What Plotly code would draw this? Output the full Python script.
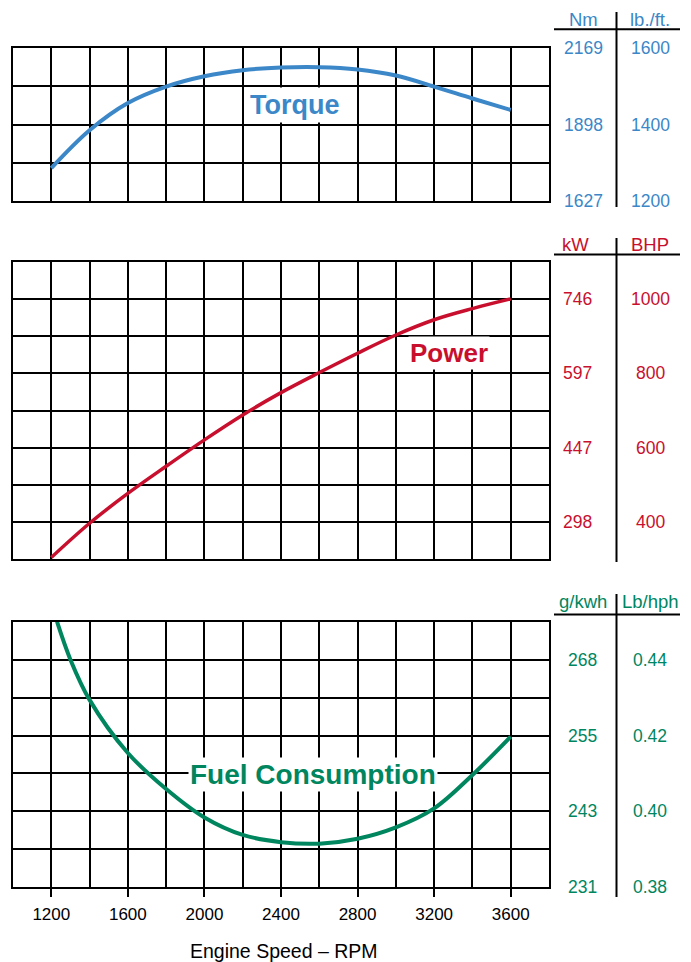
import plotly.graph_objects as go

# ---------------- data ----------------
torque_rpm = [1200, 1400, 1600, 1800, 2000, 2200, 2400, 2600, 2800, 3000, 3200, 3400, 3600]
torque_lbft = [1286, 1385, 1456, 1499, 1526, 1542, 1549, 1550, 1544, 1528, 1499, 1468, 1438]

power_rpm = [1200, 1400, 1600, 1800, 2000, 2200, 2400, 2600, 2800, 3000, 3200, 3400, 3600]
power_bhp = [305, 397, 477, 550, 621, 688, 748, 802, 854, 903, 944, 974, 1000]

fuel_rpm = [1230, 1300, 1400, 1600, 1800, 2000, 2200, 2400, 2600, 2800, 3000, 3200, 3400, 3600]
fuel_lbhph = [0.450, 0.440, 0.4294, 0.4154, 0.4059, 0.3984, 0.3938, 0.3919, 0.3915, 0.3928,
              0.3958, 0.4008, 0.4096, 0.4197]

rpm_ticks = [1200, 1600, 2000, 2400, 2800, 3200, 3600]

torque_nm_labels = ["2169", "1898", "1627"]
torque_lbft_ticks = [1600, 1400, 1200]
power_kw_labels = ["746", "597", "447", "298"]
power_bhp_ticks = [1000, 800, 600, 400]
fuel_gkwh_labels = ["268", "255", "243", "231"]
fuel_lbhph_ticks = [0.44, 0.42, 0.40, 0.38]

BLUE = "#3b87c8"
RED = "#c8102e"
GREEN = "#00865f"
FONT = "Liberation Sans, Arial, Helvetica, sans-serif"

W, H = 691, 962
def px(x):
    return x / W
def py(y):
    return 1 - y / H

fig = go.Figure()
fig.add_trace(go.Scatter(x=torque_rpm, y=torque_lbft, mode="lines", xaxis="x", yaxis="y",
                         line=dict(color=BLUE, width=4, shape="spline", smoothing=1), hoverinfo="skip"))
fig.add_trace(go.Scatter(x=power_rpm, y=power_bhp, mode="lines", xaxis="x2", yaxis="y2",
                         line=dict(color=RED, width=3.5, shape="spline", smoothing=1), hoverinfo="skip"))
fig.add_trace(go.Scatter(x=fuel_rpm, y=fuel_lbhph, mode="lines", xaxis="x3", yaxis="y3",
                         line=dict(color=GREEN, width=4, shape="spline", smoothing=1), hoverinfo="skip"))

xdom = [px(13), px(549)]
common_x = dict(range=[1000, 3800], domain=xdom, tickmode="array", tickvals=rpm_ticks,
                showgrid=True, gridcolor="black", gridwidth=2,
                minor=dict(dtick=200, tick0=1000, showgrid=True, gridcolor="black", gridwidth=2, ticks=""),
                showline=True, mirror=True, linecolor="black", linewidth=2,
                zeroline=False, automargin=False, fixedrange=True)
common_y = dict(showgrid=True, gridcolor="black", gridwidth=2, showticklabels=False, ticks="",
                showline=True, mirror=True, linecolor="black", linewidth=2,
                zeroline=False, automargin=False, fixedrange=True)

fig.update_layout(
    width=W, height=H, template="none",
    margin=dict(l=0, r=0, t=0, b=0),
    paper_bgcolor="white", plot_bgcolor="white",
    showlegend=False,
    font=dict(family=FONT, color="black"),
    xaxis=dict(common_x, anchor="y", showticklabels=False, ticks=""),
    xaxis2=dict(common_x, anchor="y2", showticklabels=False, ticks="", matches="x"),
    xaxis3=dict(common_x, anchor="y3", showticklabels=True, ticks="outside", ticklen=8,
                tickwidth=2, tickcolor="black", ticklabelstandoff=2,
                tickfont=dict(size=17, family=FONT, color="black"), matches="x"),
    yaxis=dict(common_y, anchor="x", domain=[py(201), py(48)], range=[1200, 1600], dtick=100, tick0=1200),
    yaxis2=dict(common_y, anchor="x2", domain=[py(559.3), py(261.7)], range=[300, 1100], dtick=100, tick0=300),
    yaxis3=dict(common_y, anchor="x3", domain=[py(887.3), py(621.7)], range=[0.38, 0.45], dtick=0.01, tick0=0.38),
)

ann = []
# curve labels with white boxes
ann.append(dict(text="<b>Torque</b>", x=2475, y=1451, xref="x", yref="y", showarrow=False,
                font=dict(size=27, color=BLUE, family=FONT), bgcolor="white", borderpad=2))
ann.append(dict(text="<b>Power</b>", x=3276, y=855, xref="x2", yref="y2", showarrow=False,
                font=dict(size=26, color=RED, family=FONT), bgcolor="white", borderpad=1))
ann.append(dict(text="<b>Fuel Consumption</b>", x=2568, y=0.4096, xref="x3", yref="y3", showarrow=False,
                font=dict(size=28, color=GREEN, family=FONT), bgcolor="white", borderpad=1))

# right-hand value tables
def table(left_labels, right_vals, yref, left_x, color, fmt):
    for lab, v in zip(left_labels, right_vals):
        ann.append(dict(text=lab, x=px(left_x), y=v, xref="paper", yref=yref, showarrow=False,
                        xanchor="center", yanchor="middle", font=dict(size=17.5, color=color, family=FONT)))
        ann.append(dict(text=fmt(v), x=px(650), y=v, xref="paper", yref=yref, showarrow=False,
                        xanchor="center", yanchor="middle", font=dict(size=17.5, color=color, family=FONT)))

table(torque_nm_labels, torque_lbft_ticks, "y", 583, BLUE, lambda v: f"{v}")
table(power_kw_labels, power_bhp_ticks, "y2", 577, RED, lambda v: f"{v}")
table(fuel_gkwh_labels, fuel_lbhph_ticks, "y3", 582, GREEN, lambda v: f"{v:.2f}")

headers = [("Nm", "lb./ft.", 19.7, 583, BLUE), ("kW", "BHP", 244.7, 575, RED),
           ("g/kwh", "Lb/hph", 601.7, 583, GREEN)]
for l, r, yy, lx, c in headers:
    ann.append(dict(text=l, x=px(lx), y=py(yy), xref="paper", yref="paper", showarrow=False,
                    xanchor="center", yanchor="middle", font=dict(size=18.5, color=c, family=FONT)))
    ann.append(dict(text=r, x=px(650), y=py(yy), xref="paper", yref="paper", showarrow=False,
                    xanchor="center", yanchor="middle", font=dict(size=18.5, color=c, family=FONT)))

ann.append(dict(text="Engine Speed – RPM", x=px(284), y=py(951), xref="paper", yref="paper",
                showarrow=False, xanchor="center", yanchor="middle",
                font=dict(size=19.5, color="black", family=FONT)))

shapes = []
for hy, vtop, vbot in [(29.3, 12, 207), (254.5, 238, 562), (614.5, 594, 897)]:
    shapes.append(dict(type="line", xref="paper", yref="paper", x0=px(554), x1=px(680),
                       y0=py(hy), y1=py(hy), line=dict(color="black", width=2)))
    shapes.append(dict(type="line", xref="paper", yref="paper", x0=px(616.5), x1=px(616.5),
                       y0=py(vtop), y1=py(vbot), line=dict(color="black", width=2)))

fig.update_layout(annotations=ann, shapes=shapes)
fig.write_html("out.html", config={"displayModeBar": False, "staticPlot": True},
               post_script="document.body.style.margin='0';document.body.style.overflow='hidden';")
